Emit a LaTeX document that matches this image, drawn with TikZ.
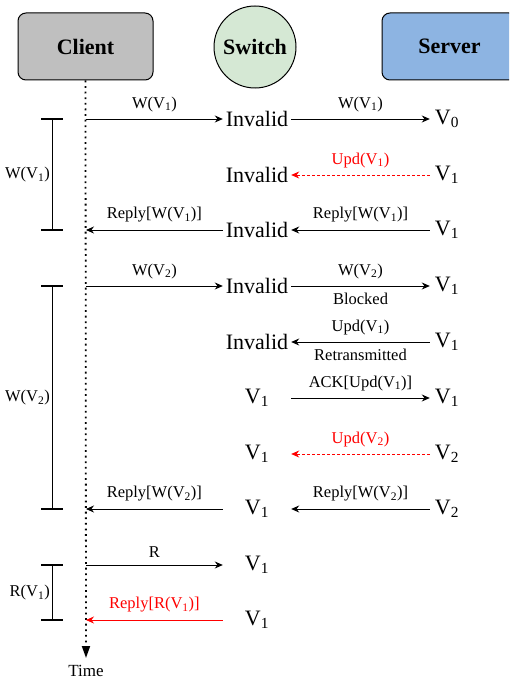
\documentclass[tikz,border=0pt]{standalone}
\usepackage{fontspec}
\setmainfont{Liberation Serif}
\usetikzlibrary{arrows.meta}

\newcommand{\vsub}[1]{V\textsubscript{#1}}

\definecolor{clientgray}{HTML}{BFBFBF}
\definecolor{switchgreen}{HTML}{D5E8D4}
\definecolor{serverblue}{HTML}{8DB4E2}

\begin{document}
\begin{tikzpicture}[x=1pt,y=-1pt,
  headbox/.style={draw=black, line width=1pt, rounded corners=8pt,
    minimum width=135pt, minimum height=67pt,
    font=\fontsize{22}{26}\selectfont\bfseries},
  switchstate/.style={inner sep=0pt, minimum width=68pt,
    font=\fontsize{22}{26}\selectfont},
  serverstate/.style={inner sep=0pt, minimum width=34pt,
    font=\fontsize{22}{26}\selectfont},
  lbl/.style={font=\fontsize{16.5}{19}\selectfont, inner sep=1pt},
  msg/.style={line width=0.9pt, -{Stealth[length=8pt,width=7pt]}},
  updmsg/.style={msg, red, dash pattern=on 3pt off 2pt},
  redmsg/.style={msg, red},
  lifeline/.style={line width=1.8pt, dash pattern=on 1.8pt off 3.8pt,
    -{Triangle[length=12pt,width=8pt]}},
  spanline/.style={line width=1pt},
  spantick/.style={line width=1.8pt},
]
\useasboundingbox (0,0) rectangle (509,690);
\clip (0,0) rectangle (509,690);

% participants
\node[headbox, fill=clientgray] (client) at (85.5,46.5) {Client};
\node[draw=black, line width=1pt, circle, minimum size=82pt, fill=switchgreen,
  font=\fontsize{22}{26}\selectfont\bfseries] (switch) at (255,47) {Switch};
\node[headbox, fill=serverblue] (server) at (449.5,46.5) {Server};

% client lifeline with time arrow
\coordinate (timeend) at (86,658);
\draw[lifeline] (client.south) -- (timeend);
\node[anchor=north, inner sep=0pt, font=\fontsize{17}{20}\selectfont]
  (timelbl) at (86,665) {Time};

% points on the client lifeline
\foreach \n/\y in {1/119, 3/230, 4/286, 8/509, 9/565, 10/620}
  \coordinate (c\n) at (86,\y);

% switch states
\node[switchstate] (s1) at (257,119) {Invalid};
\node[switchstate] (s2) at (257,175) {Invalid};
\node[switchstate] (s3) at (257,230) {Invalid};
\node[switchstate] (s4) at (257,286) {Invalid};
\node[switchstate] (s5) at (257,342) {Invalid};
\node[switchstate] (s6) at (257,398) {\vsub{1}};
\node[switchstate] (s7) at (257,454) {\vsub{1}};
\node[switchstate] (s8) at (257,509) {\vsub{1}};
\node[switchstate] (s9) at (257,565) {\vsub{1}};
\node[switchstate] (s10) at (257,620) {\vsub{1}};

% server states
\node[serverstate] (v1) at (447,119) {\vsub{0}};
\node[serverstate] (v2) at (447,175) {\vsub{1}};
\node[serverstate] (v3) at (447,230) {\vsub{1}};
\node[serverstate] (v4) at (447,286) {\vsub{1}};
\node[serverstate] (v5) at (447,342) {\vsub{1}};
\node[serverstate] (v6) at (447,398) {\vsub{1}};
\node[serverstate] (v7) at (447,454) {\vsub{2}};
\node[serverstate] (v8) at (447,509) {\vsub{2}};

% write V1
\draw[msg] (c1) -- node[lbl, midway, above=6pt] (m1a) {W(\vsub{1})} (s1.west);
\draw[msg] (s1.east) -- node[lbl, midway, above=6pt] (m1b) {W(\vsub{1})} (v1.west);
\draw[updmsg] (v2.west) -- node[lbl, text=red, midway, above=6pt] (m2) {Upd(\vsub{1})} (s2.east);
\draw[msg] (v3.west) -- node[lbl, midway, above=6pt] (m3b) {Reply[W(\vsub{1})]} (s3.east);
\draw[msg] (s3.west) -- node[lbl, midway, above=6pt] (m3a) {Reply[W(\vsub{1})]} (c3);

% write V2
\draw[msg] (c4) -- node[lbl, midway, above=6pt] (m4a) {W(\vsub{2})} (s4.west);
\draw[msg] (s4.east) -- node[lbl, midway, above=6pt] (m4b) {W(\vsub{2})}
  node[lbl, midway, below=6pt] (m4c) {Blocked} (v4.west);
\draw[msg] (v5.west) -- node[lbl, midway, above=6pt] (m5a) {Upd(\vsub{1})}
  node[lbl, midway, below=6pt] (m5b) {Retransmitted} (s5.east);
\draw[msg] (s6.east) -- node[lbl, midway, above=6pt] (m6) {ACK[Upd(\vsub{1})]} (v6.west);
\draw[updmsg] (v7.west) -- node[lbl, text=red, midway, above=6pt] (m7) {Upd(\vsub{2})} (s7.east);
\draw[msg] (v8.west) -- node[lbl, midway, above=6pt] (m8b) {Reply[W(\vsub{2})]} (s8.east);
\draw[msg] (s8.west) -- node[lbl, midway, above=6pt] (m8a) {Reply[W(\vsub{2})]} (c8);

% read
\draw[msg] (c9) -- node[lbl, midway, above=6pt] (m9) {R} (s9.west);
\draw[redmsg] (s10.west) -- node[lbl, text=red, midway, above=6pt] (m10) {Reply[R(\vsub{1})]} (c10);

% operation spans on the left
\foreach \n/\ya/\yb in {1/119/230, 2/286/509, 3/565/620} {
  \coordinate (sa\n) at (52,\ya);
  \coordinate (sb\n) at (52,\yb);
  \draw[spanline] (sa\n) -- (sb\n);
  \draw[spantick] ([xshift=-11pt]sa\n) -- ([xshift=11pt]sa\n);
  \draw[spantick] ([xshift=-11pt]sb\n) -- ([xshift=11pt]sb\n);
}
\node[lbl, anchor=east] (span1) at (51,174.5) {W(\vsub{1})};
\node[lbl, anchor=east] (span2) at (51,397.5) {W(\vsub{2})};
\node[lbl, anchor=east] (span3) at (51,592.5) {R(\vsub{1})};
\end{tikzpicture}
\end{document}
